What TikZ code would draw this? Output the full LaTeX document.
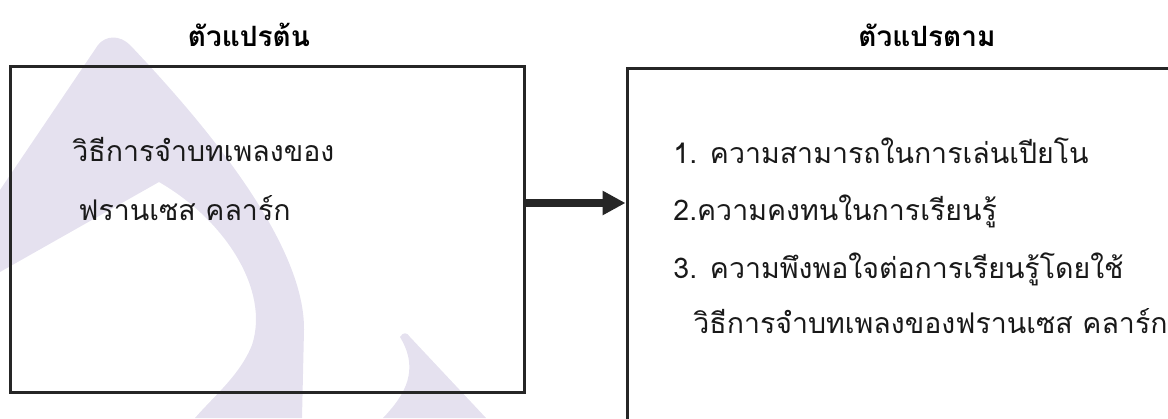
\documentclass[tikz,border=0pt]{standalone}
\usepackage{fontspec}
\newfontfamily\thaifont[Script=Thai]{Loma}
\usetikzlibrary{positioning, calc, arrows.meta}
\definecolor{wmark}{HTML}{E5E1EF}

\begin{document}
\begin{tikzpicture}[x=1pt, y=-1pt, node distance=194pt, thick]
        % Define block styles
        \tikzstyle{block} = [rectangle, draw=black!85, line width=3pt, inner sep=0pt]
        \tikzstyle{heading} = [font=\thaifont\bfseries\fontsize{28}{32}\selectfont, inner sep=0pt]
        \tikzstyle{entry} = [anchor=base west, font=\thaifont\fontsize{28.5}{32}\selectfont, text=black!90, inner sep=0pt]
        \tikzstyle{link} = [-{Triangle[length=23pt, width=23pt]}, line width=7.5pt, black!85]

        \useasboundingbox (0,0) rectangle (1168,418);
        \clip (0,0) rectangle (1168,418);

        % Watermark in the background
        \fill [wmark] (0,190) -- (98,45) .. controls (106,35) and (120,35) .. (130,45)
            .. controls (230,150) and (305,255) .. (304,330) -- (302,418) -- (195,418)
            .. controls (215,395) and (240,375) .. (252,345)
            .. controls (270,290) and (225,220) .. (159,182) -- (0,272) -- cycle;
        \fill [wmark] (400,337) .. controls (403,332) and (407,332) .. (410,337)
            -- (486,418) -- (383,418) .. controls (405,395) and (420,370) .. (400,337) -- cycle;

        % Place nodes
        \node [block, minimum width=514pt, minimum height=326pt] (indep) at (267,229) {};
        \node [block, minimum width=553pt, minimum height=362pt] (dep) at (903.5,249) {};
        \node [heading, above of=indep, xshift=-18pt] (indep_title) {ตัวแปรต้น};
        \node [heading, above of=dep, node distance=214pt, xshift=23.5pt] (dep_title) {ตัวแปรตาม};

        % Text inside the boxes
        \node [entry] (indep_line1) at (72,161) {วิธีการจำบทเพลงของ};
        \node [entry] (indep_line2) at (78,220) {ฟรานเซส คลาร์ก};
        \node [entry] (dep_line1) at (673,163) {1. ความสามารถในการเล่นเปียโน};
        \node [entry] (dep_line2) at (673,220) {2.ความคงทนในการเรียนรู้};
        \node [entry] (dep_line3) at (673,278) {3. ความพึงพอใจต่อการเรียนรู้โดยใช้};
        \node [entry] (dep_line4) at (693,333) {วิธีการจำบทเพลงของฟรานเซส คลาร์ก};

        % Draw connection as arrow
        \coordinate (arrow_start) at ([yshift=26pt]indep.east);
        \draw [link] (arrow_start) -- (arrow_start -| dep.west);
    \end{tikzpicture}
\end{document}
